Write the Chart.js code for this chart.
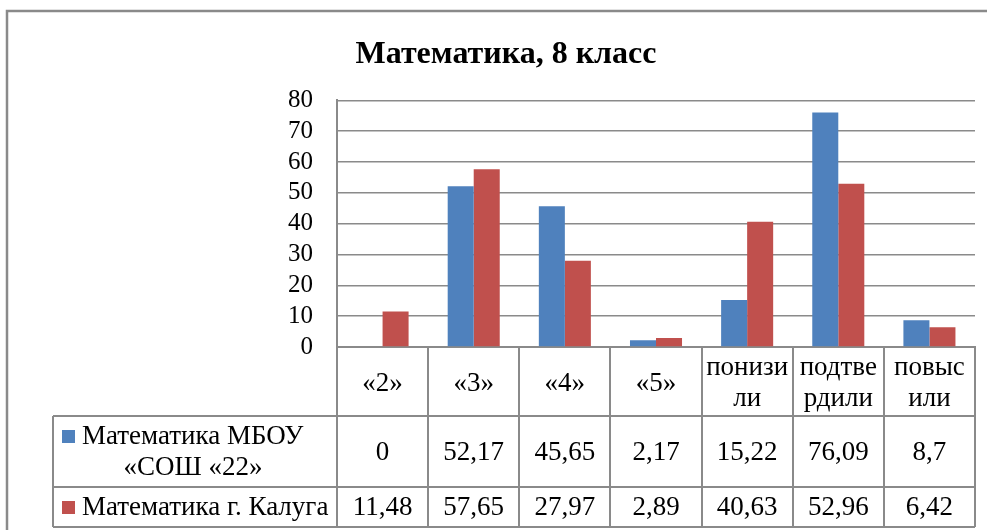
<!DOCTYPE html>
<html>
<head>
<meta charset="utf-8">
<script src="https://cdn.jsdelivr.net/npm/chart.js@4.4.1/dist/chart.umd.min.js"></script>
<style>
  html, body { margin: 0; padding: 0; background: #fff; }
  #wrap { width: 987px; height: 530px; }
</style>
</head>
<body>
<div id="wrap"><canvas id="chart" width="987" height="530"></canvas></div>
<script>
// Данные диаграммы
const categories = [['«2»'], ['«3»'], ['«4»'], ['«5»'], ['понизи', 'ли'], ['подтве', 'рдили'], ['повыс', 'или']];
const seriesNames = [['Математика МБОУ', '«СОШ «22»'], ['Математика г. Калуга']];
const mbouValues = [0, 52.17, 45.65, 2.17, 15.22, 76.09, 8.7];
const kalugaValues = [11.48, 57.65, 27.97, 2.89, 40.63, 52.96, 6.42];
const yTicks = { min: 0, max: 80, step: 10 };

const colors = ['#4F81BD', '#C0504D'];
const serif = "'Liberation Serif', 'Times New Roman', serif";
const lineGray = '#8a8a8a';

const fmt = v => String(v).replace('.', ',');

// Рамка всей диаграммы
const framePlugin = {
    id: 'frame',
    beforeDraw(chart) {
        const ctx = chart.ctx;
        ctx.save();
        ctx.fillStyle = '#fff';
        ctx.fillRect(0, 0, chart.width, chart.height);
        ctx.strokeStyle = lineGray;
        ctx.lineWidth = 2.5;
        ctx.strokeRect(7, 11, chart.width + 40, chart.height + 40);
        ctx.restore();
    }
};

// Таблица данных под осью X (как в Excel)
const tablePlugin = {
    id: 'dataTable',
    afterDraw(chart) {
        const { ctx, chartArea } = chart;
        const x = chart.scales.x;
        const n = categories.length;
        const step = (chartArea.right - chartArea.left) / n;
        const top = chartArea.bottom;
        const rows = [top, top + 69, top + 140, top + 180];
        const legendLeft = 53;

        ctx.save();
        ctx.strokeStyle = lineGray;
        ctx.lineWidth = 2;

        // вертикальные линии по границам категорий
        for (let i = 0; i <= n; i++) {
            const bx = Math.round(x.getPixelForValue(0) - step / 2 + i * step);
            ctx.beginPath();
            ctx.moveTo(bx, top);
            ctx.lineTo(bx, rows[3]);
            ctx.stroke();
        }
        // горизонтальные линии строк
        for (let r = 1; r < rows.length; r++) {
            ctx.beginPath();
            ctx.moveTo(legendLeft, rows[r]);
            ctx.lineTo(chartArea.right, rows[r]);
            ctx.stroke();
        }
        ctx.beginPath();
        ctx.moveTo(legendLeft, rows[1]);
        ctx.lineTo(legendLeft, rows[3]);
        ctx.stroke();

        ctx.fillStyle = '#000';
        ctx.font = '27px ' + serif;
        ctx.textAlign = 'center';
        ctx.textBaseline = 'middle';

        // заголовки категорий
        categories.forEach((lines, i) => {
            const cx = x.getPixelForValue(i);
            const cy = (rows[0] + rows[1]) / 2 + 2;
            lines.forEach((t, k) => {
                ctx.fillText(t, cx, cy + (k - (lines.length - 1) / 2) * 31);
            });
        });

        // значения рядов
        [mbouValues, kalugaValues].forEach((vals, s) => {
            const cy = (rows[s + 1] + rows[s + 2]) / 2 + 1;
            vals.forEach((v, i) => ctx.fillText(fmt(v), x.getPixelForValue(i), cy));
        });

        // подписи рядов с маркерами
        ctx.textAlign = 'left';
        seriesNames.forEach((lines, s) => {
            const cy = (rows[s + 1] + rows[s + 2]) / 2 + 1;
            const y0 = cy - (lines.length - 1) / 2 * 31;
            ctx.fillStyle = colors[s];
            ctx.fillRect(62, Math.round(y0 - 7), 13, 13);
            ctx.fillStyle = '#000';
            ctx.fillText(lines[0], 82, y0);
            if (lines.length > 1) {
                ctx.textAlign = 'center';
                ctx.fillText(lines[1], 193, y0 + 31);
                ctx.textAlign = 'left';
            }
        });
        ctx.restore();
    }
};

new Chart(document.getElementById('chart'), {
    type: 'bar',
    data: {
        labels: categories,
        datasets: [
            { label: seriesNames[0].join(' '), data: mbouValues, backgroundColor: colors[0] },
            { label: seriesNames[1].join(' '), data: kalugaValues, backgroundColor: colors[1] }
        ]
    },
    options: {
        responsive: false,
        animation: false,
        datasets: { bar: { categoryPercentage: 0.571, barPercentage: 1.0 } },
        layout: { padding: { top: 11, left: 37, right: 12, bottom: 183 } },
        plugins: {
            legend: { display: false },
            tooltip: { enabled: false },
            title: {
                display: true,
                text: 'Математика, 8 класс',
                color: '#000',
                font: { family: serif, size: 32, weight: 'bold', lineHeight: 1.2 },
                padding: { top: 25, bottom: 26 }
            }
        },
        scales: {
            x: {
                ticks: { display: false },
                grid: { display: false, drawTicks: false },
                border: { display: true, color: lineGray, width: 2 },
                afterFit: s => { s.height = 0; }
            },
            y: {
                min: yTicks.min,
                max: yTicks.max,
                ticks: {
                    stepSize: yTicks.step,
                    autoSkip: false,
                    color: '#000',
                    padding: 24,
                    font: { family: serif, size: 25 }
                },
                grid: { color: lineGray, lineWidth: 1.5, drawTicks: false },
                border: { display: true, color: lineGray, width: 2 },
                afterFit: s => { s.width = 300; }
            }
        }
    },
    plugins: [framePlugin, tablePlugin]
});
</script>
</body>
</html>
